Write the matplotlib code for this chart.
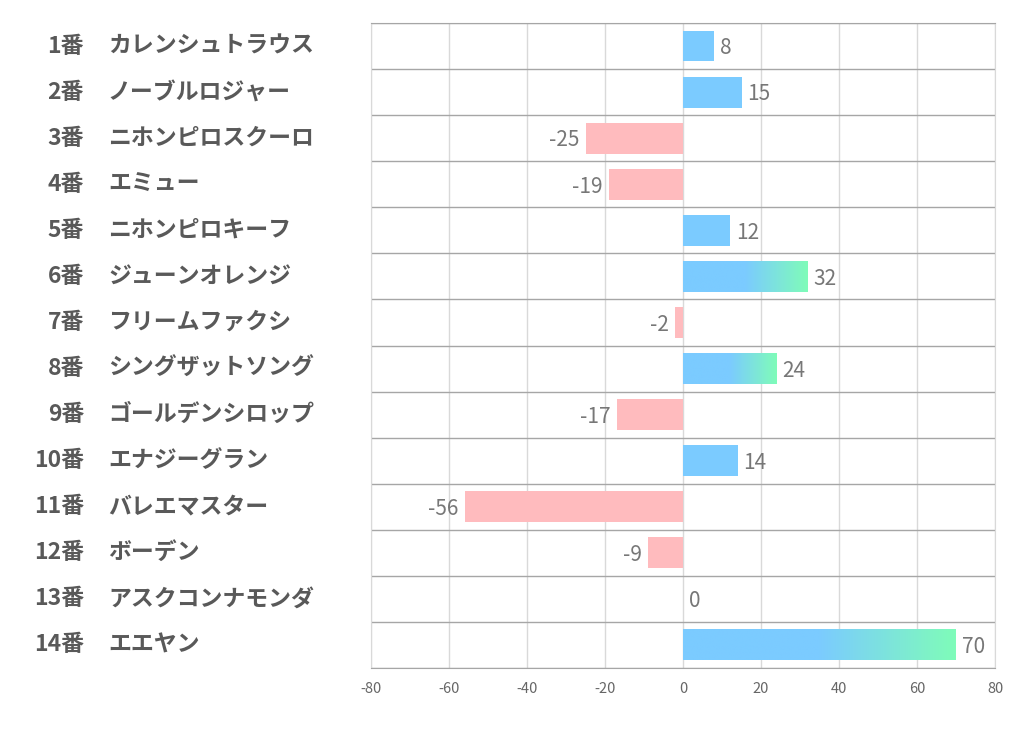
import numpy as np
import matplotlib
matplotlib.use("Agg")
import matplotlib.pyplot as plt
from matplotlib import transforms
from matplotlib.colors import LinearSegmentedColormap

plt.rcParams['font.family'] = ['Noto Sans CJK JP', 'DejaVu Sans']

# data
numbers = ["1番", "2番", "3番", "4番", "5番", "6番", "7番", "8番", "9番", "10番",
           "11番", "12番", "13番", "14番"]
names = ["カレンシュトラウス", "ノーブルロジャー", "ニホンピロスクーロ", "エミュー",
         "ニホンピロキーフ", "ジューンオレンジ", "フリームファクシ", "シングザットソング",
         "ゴールデンシロップ", "エナジーグラン", "バレエマスター", "ボーデン",
         "アスクコンナモンダ", "エエヤン"]
values = [8, 15, -25, -19, 12, 32, -2, 24, -17, 14, -56, -9, 0, 70]
xticks = [-80, -60, -40, -20, 0, 20, 40, 60, 80]

blue = "#7bcbff"
green = "#7ffcb9"
pink = "#ffbbbe"
txt_c = "#595959"

fig = plt.figure(figsize=(10.22, 7.30), dpi=100)
ax = fig.add_axes([371/1022, 1-668/730, (995-371)/1022, (668-23)/730])

y = np.arange(len(values))
h = 0.67
# solid blue for first half of bar, then fade to green
cmap = LinearSegmentedColormap.from_list("bg", [(0, blue), (0.5, blue), (1, green)])
grad = np.linspace(0, 1, 256).reshape(1, -1)

for yi, v in zip(y, values):
    if v < 0:
        ax.barh(yi, v, height=h, color=pink, zorder=3)
    elif v >= 20:
        ax.imshow(grad, cmap=cmap, aspect="auto", zorder=3,
                  extent=[0, v, yi + h/2, yi - h/2], interpolation="bilinear")
    else:
        ax.barh(yi, v, height=h, color=blue, zorder=3)

    if v < 0:
        ax.text(v - 1.5, yi + 0.05, str(v), ha="right", va="center", fontsize=15, color="#777777")
    else:
        ax.text(v + 1.5, yi + 0.05, str(v), ha="left", va="center", fontsize=15, color="#777777")

ax.set_xlim(-80, 80)
ax.set_ylim(len(values) - 0.5, -0.5)
ax.set_xticks(xticks)
ax.set_xticklabels([str(t) for t in xticks], fontsize=10.5, color="#666666")
ax.set_yticks([])
ax.set_yticks(np.arange(-0.5, len(values)), minor=True)
ax.tick_params(axis="both", which="both", length=0)
ax.tick_params(axis="x", pad=10)
ax.grid(axis="x", color="#d9d9d9", linewidth=1, zorder=0)
ax.grid(axis="y", which="minor", color="#a6a6a6", linewidth=1, zorder=0)
ax.set_axisbelow(True)
for s in ax.spines.values():
    s.set_color("#d9d9d9")
ax.spines["bottom"].set_color("#a6a6a6")
ax.spines["top"].set_color("#a6a6a6")

trans = transforms.blended_transform_factory(fig.transFigure, ax.transData)
for yi, n, nm in zip(y, numbers, names):
    ax.text(84/1022, yi, n, transform=trans, ha="right", va="center",
            fontsize=16.5, fontweight="bold", color=txt_c)
    ax.text(108/1022, yi, nm, transform=trans, ha="left", va="center",
            fontsize=16.5, fontweight="bold", color=txt_c)

fig.savefig("out.png", dpi=100)
